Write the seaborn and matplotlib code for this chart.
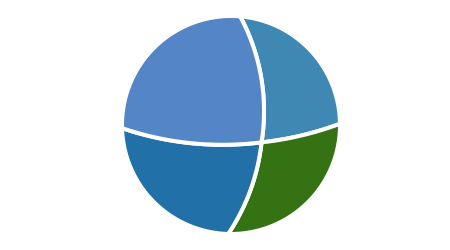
import numpy as np
import matplotlib
matplotlib.use("Agg")
import matplotlib.pyplot as plt
import seaborn as sns

# Data (clockwise from the top)
categories = ["A", "B", "C", "D"]
values = [20.8, 28.4, 21.3, 29.5]
colors = ["#3f88b4", "#347214", "#2170a7", "#5485c6"]

# Globe view (pie drawn on a sphere, stereographic view of one hemisphere)
pole_xy = (0.280, -0.159)     # pie centre as seen on the disc (x right, y up)
start_deg = 4.2               # first boundary, clockwise from "up"

sns.set_theme(style="white")
fig = plt.figure(figsize=(4.5, 2.5), dpi=100)
ax = fig.add_axes([0, 0, 1, 1])
ax.set_xlim(0, 450)
ax.set_ylim(250, 0)
ax.axis("off")

cx, cy, R = 231.0, 125.0, 109.0

# pole on the sphere from its stereographic image
px, py = pole_xy
r = np.hypot(px, py)
theta = 2 * np.arctan(r)
d = np.array([px, py]) / r
p = np.array([np.sin(theta) * d[0], np.sin(theta) * d[1], np.cos(theta)])

up = np.array([0.0, 1.0, 0.0])
e1 = up - up.dot(p) * p
e1 /= np.linalg.norm(e1)
e2 = np.cross(e1, p)
e2 /= np.linalg.norm(e2)


def tangent(phi):
    return np.cos(phi) * e1 + np.sin(phi) * e2


def s_star(phi):
    t = tangent(phi)
    return np.arctan2(p[2], -t[2])


def meridian(phi, n=80):
    t = tangent(phi)
    s = np.linspace(0, s_star(phi), n)
    return np.outer(np.cos(s), p) + np.outer(np.sin(s), t)


def horizon(phi0, phi1, n=120):
    pts = []
    for ph in np.linspace(phi0, phi1, n):
        t = tangent(ph)
        s = s_star(ph)
        pts.append(np.cos(s) * p + np.sin(s) * t)
    return np.array(pts)


def project(q):
    k = 1.0 / (1.0 + q[:, 2])
    return q[:, 0] * k, q[:, 1] * k


fracs = np.array(values) / np.sum(values)
bounds = np.deg2rad(start_deg) + 2 * np.pi * np.concatenate([[0], np.cumsum(fracs)])

for i, (cat, col) in enumerate(zip(categories, colors)):
    a0, a1 = bounds[i], bounds[i + 1]
    pts = np.vstack([meridian(a0), horizon(a0, a1), meridian(a1)[::-1]])
    X, Y = project(pts)
    ax.fill(cx + R * X, cy - R * Y, facecolor=col, edgecolor="white",
            linewidth=2.9, joinstyle="round", label=cat)

fig.savefig("out.png", dpi=100, facecolor="white")
